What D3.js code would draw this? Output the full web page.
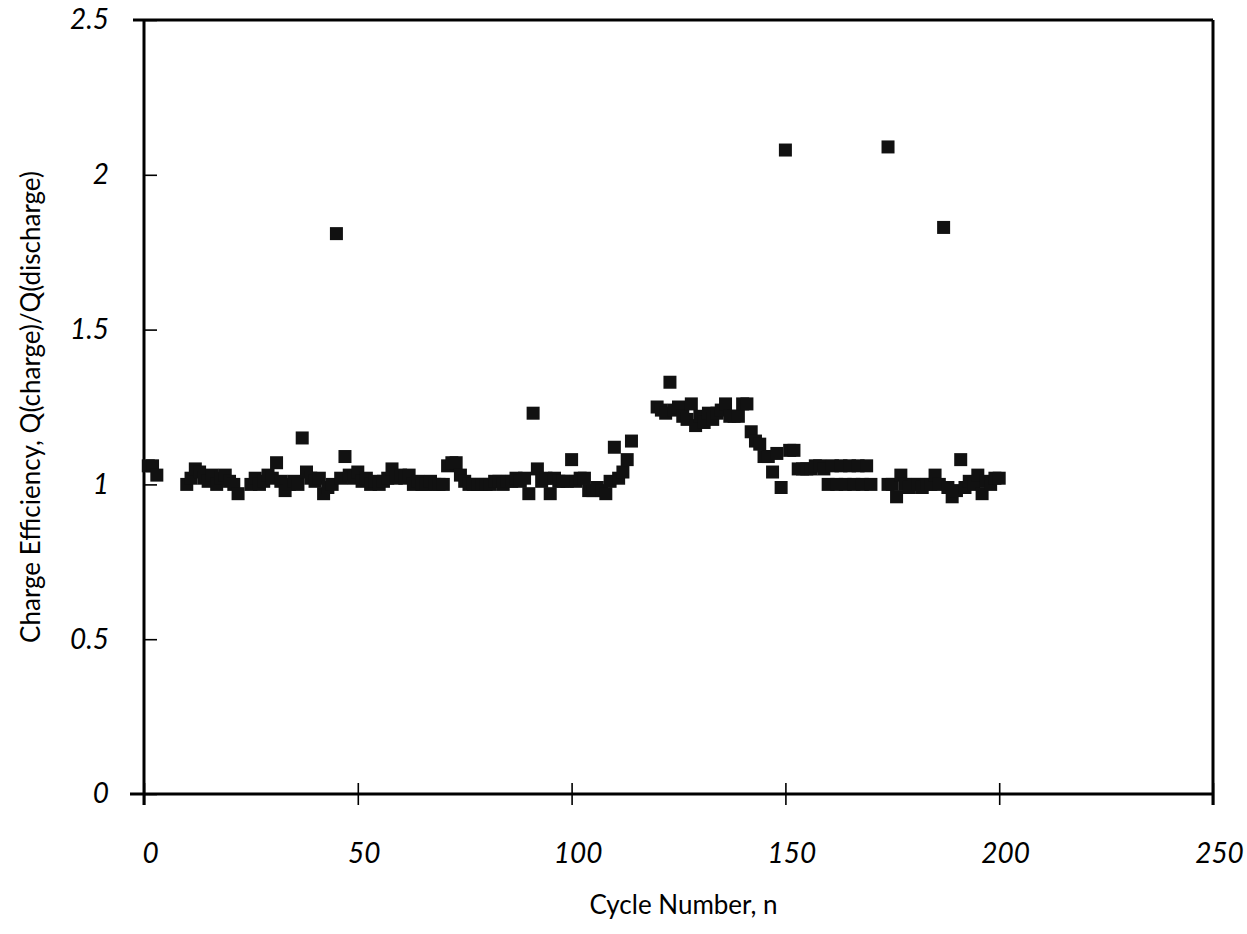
<!DOCTYPE html>
<html>
<head>
<meta charset="utf-8">
<script src="https://cdn.jsdelivr.net/npm/d3@7"></script>
<style>
  html, body { margin: 0; padding: 0; background: #fff; }
  svg text { font-family: "Lato", "DejaVu Sans", sans-serif; fill: #000; }
</style>
</head>
<body>
<svg id="chart" width="1247" height="934"></svg>
<script>
// Cycle numbers and the measured charge efficiency Q(charge)/Q(discharge)
const cycles = [
  1, 2, 3,
  10, 11, 12, 13, 14, 15, 16, 17, 18, 19, 20, 21, 22,
  25, 26, 27, 28, 29, 30, 31, 32, 33, 34, 35, 36, 37, 38, 39, 40,
  41, 42, 43, 44, 45, 46, 47, 48, 49, 50, 51, 52, 53, 54, 55, 56,
  57, 58, 59, 60, 61, 62, 63, 64, 65, 66, 67, 68, 69, 70, 71, 72,
  73, 74, 75, 76, 77, 78, 79, 80, 81, 82, 83, 84, 85, 86, 87, 88,
  89, 90, 91, 92, 93, 94, 95, 96, 97, 98, 99, 100, 101, 102, 103, 104,
  105, 106, 107, 108, 109, 110, 111, 112, 113, 114,
  120, 121, 122, 123, 124, 125, 126, 127, 128, 129, 130, 131, 132, 133, 134, 135,
  136, 137, 138, 139, 140, 141, 142, 143, 144, 145, 146, 147, 148, 149, 150, 151,
  152, 153, 154, 155, 156, 157, 158, 159, 160, 161, 162, 163, 164, 165, 166, 167,
  168, 169, 170,
  174, 174, 175, 176, 177, 178, 179, 180, 181, 182, 183, 184, 185, 186, 187, 188,
  189, 190, 191, 192, 193, 194, 195, 196, 197, 198, 199, 200
];
const efficiency = [
  1.06, 1.06, 1.03,
  1.00, 1.02, 1.05, 1.04, 1.02, 1.01, 1.03, 1.00, 1.02, 1.03, 1.01, 1.00, 0.97,
  1.00, 1.02, 1.00, 1.01, 1.03, 1.02, 1.07, 1.01, 0.98, 1.00, 1.01, 1.00, 1.15, 1.04, 1.02, 1.01,
  1.02, 0.97, 0.99, 1.00, 1.81, 1.02, 1.09, 1.03, 1.02, 1.04, 1.01, 1.02, 1.00, 1.01, 1.00, 1.01,
  1.02, 1.05, 1.02, 1.03, 1.02, 1.03, 1.00, 1.01, 1.00, 1.00, 1.01, 1.00, 1.00, 1.00, 1.06, 1.07,
  1.07, 1.03, 1.01, 1.00, 1.00, 1.00, 1.00, 1.00, 1.00, 1.01, 1.01, 1.00, 1.01, 1.01, 1.02, 1.01,
  1.02, 0.97, 1.23, 1.05, 1.01, 1.02, 0.97, 1.02, 1.01, 1.01, 1.01, 1.08, 1.01, 1.02, 1.02, 0.98,
  0.98, 0.99, 0.98, 0.97, 1.01, 1.12, 1.02, 1.04, 1.08, 1.14,
  1.25, 1.24, 1.23, 1.33, 1.24, 1.25, 1.22, 1.21, 1.26, 1.19, 1.22, 1.20, 1.23, 1.21, 1.23, 1.24,
  1.26, 1.22, 1.22, 1.22, 1.26, 1.26, 1.17, 1.14, 1.13, 1.09, 1.09, 1.04, 1.10, 0.99, 2.08, 1.11,
  1.11, 1.05, 1.05, 1.05, 1.05, 1.06, 1.06, 1.05, 1.00, 1.06, 1.00, 1.06, 1.00, 1.06, 1.00, 1.06,
  1.00, 1.06, 1.00,
  2.09, 1.00, 1.00, 0.96, 1.03, 1.00, 0.99, 1.00, 1.00, 0.99, 1.00, 1.00, 1.03, 1.00, 1.83, 0.99,
  0.96, 0.98, 1.08, 0.99, 1.01, 1.00, 1.03, 0.97, 1.01, 1.00, 1.02, 1.02
];

const xTicks = [0, 50, 100, 150, 200, 250];
const xTickLabels = ["0", "50", "100", "150", "200", "250"];
const yTicks = [0, 0.5, 1, 1.5, 2, 2.5];
const yTickLabels = ["0", "0.5", "1", "1.5", "2", "2.5"];

const xTitle = "Cycle Number, n";
const yTitle = "Charge Efficiency, Q(charge)/Q(discharge)";

const svg = d3.select("#chart");

const plotLeft = 144, plotRight = 1213, plotTop = 20, plotBottom = 794;

const x = d3.scaleLinear().domain([0, 250]).range([plotLeft, plotRight]);
const y = d3.scaleLinear().domain([0, 2.5]).range([plotBottom, plotTop]);

// frame: top and right edges
svg.append("line")
  .attr("x1", plotLeft - 11).attr("x2", plotRight)
  .attr("y1", plotTop).attr("y2", plotTop)
  .attr("stroke", "#000").attr("stroke-width", 3);
svg.append("line")
  .attr("x1", plotRight).attr("x2", plotRight)
  .attr("y1", plotTop).attr("y2", plotBottom + 11)
  .attr("stroke", "#000").attr("stroke-width", 3);

// x axis, ticks crossing the line
const xAxis = d3.axisBottom(x)
  .tickValues(xTicks)
  .tickFormat((d, i) => xTickLabels[i])
  .tickSizeOuter(0)
  .tickSizeInner(11)
  .tickPadding(38);
const gx = svg.append("g").attr("transform", `translate(0,${plotBottom})`).call(xAxis);
gx.select(".domain").attr("stroke-width", 3).attr("d", `M${plotLeft - 14},0H${plotRight}`);
gx.selectAll(".tick line").attr("y1", -11).attr("stroke-width", 1.6);
gx.selectAll(".tick text")
  .attr("font-size", 28).attr("font-style", "italic")
  .attr("dx", 6);

// y axis, ticks crossing the line
const yAxis = d3.axisLeft(y)
  .tickValues(yTicks)
  .tickFormat((d, i) => yTickLabels[i])
  .tickSizeOuter(0)
  .tickSizeInner(11)
  .tickPadding(24);
const gy = svg.append("g").attr("transform", `translate(${plotLeft},0)`).call(yAxis);
gy.select(".domain").attr("stroke-width", 3).attr("d", `M0,${plotTop}V${plotBottom + 11}`);
gy.selectAll(".tick line").attr("x2", 13).attr("stroke-width", 1.6);
gy.selectAll(".tick text")
  .attr("font-size", 28).attr("font-style", "italic");

// axis titles
svg.append("text")
  .attr("x", (plotLeft + plotRight) / 2 + 5)
  .attr("y", 914)
  .attr("text-anchor", "middle")
  .attr("font-size", 26)
  .text(xTitle);
svg.append("text")
  .attr("transform", `translate(40,${(plotTop + plotBottom) / 2}) rotate(-90)`)
  .attr("text-anchor", "middle")
  .attr("font-size", 26)
  .text(yTitle);

// square markers
const size = 13;
const points = cycles.map((n, i) => ({ n, v: efficiency[i] }));
svg.append("g")
  .selectAll("rect")
  .data(points)
  .join("rect")
  .attr("x", d => x(d.n) - size / 2)
  .attr("y", d => y(d.v) - size / 2)
  .attr("width", size)
  .attr("height", size)
  .attr("fill", "#111");
</script>
</body>
</html>
